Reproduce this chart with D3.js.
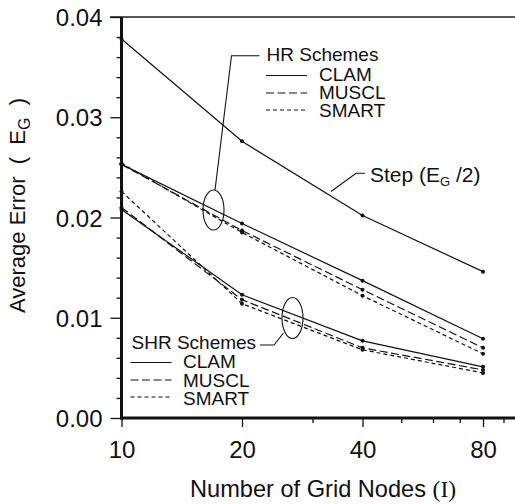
<!DOCTYPE html>
<html>
<head>
<meta charset="utf-8">
<script src="https://cdn.jsdelivr.net/npm/d3@7"></script>
<style>
  html, body { margin: 0; padding: 0; background: #fff; }
  svg { display: block; font-family: "Liberation Sans", Arial, Helvetica, sans-serif; }
  text { fill: #111; white-space: pre; }
</style>
</head>
<body>
<svg id="chart" width="515" height="504"></svg>
<script>
// Grid sizes (I) and average errors E_G for each scheme
const gridNodes = [10, 20, 40, 80];
const stepHalf  = [0.0378, 0.0276, 0.0202, 0.0146];   // Step, plotted as E_G / 2
const hrClam    = [0.0253, 0.0194, 0.0137, 0.0079];
const hrMuscl   = [0.0253, 0.0187, 0.0128, 0.0070];
const hrSmart   = [0.0254, 0.0185, 0.0122, 0.0064];
const shrClam   = [0.0208, 0.0123, 0.0077, 0.0051];
const shrMuscl  = [0.0210, 0.0118, 0.0070, 0.0048];
const shrSmart  = [0.0226, 0.0114, 0.0068, 0.0045];

const xMajorTicks = [10, 20, 40, 80];
const xMinorTicks = [30, 50, 60, 70, 90, 100];
const yMajorTicks = [0, 0.01, 0.02, 0.03, 0.04];
const yTickLabels = ["0.00", "0.01", "0.02", "0.03", "0.04"];
const yMinorTicks = d3.range(0, 41, 2).map(v => v / 1000).filter(v => !yMajorTicks.some(m => Math.abs(m - v) < 1e-9));

const legendNames = ["CLAM", "MUSCL", "SMART"];
const dashStyles = { CLAM: null, MUSCL: "8,3.5", SMART: "4,3" };

const series = [
  { name: "Step",  style: "CLAM",  values: stepHalf },
  { name: "HR CLAM",  style: "CLAM",  values: hrClam },
  { name: "HR MUSCL", style: "MUSCL", values: hrMuscl },
  { name: "HR SMART", style: "SMART", values: hrSmart },
  { name: "SHR CLAM",  style: "CLAM",  values: shrClam },
  { name: "SHR MUSCL", style: "MUSCL", values: shrMuscl },
  { name: "SHR SMART", style: "SMART", values: shrSmart }
];

const svg = d3.select("#chart");

const x = d3.scaleLog().domain([10, 100]).range([121.5, 521.8]);
const y = d3.scaleLinear().domain([0, 0.04]).range([418, 17]);

// top frame line
svg.append("line")
  .attr("x1", 110).attr("x2", 515)
  .attr("y1", y(0.04)).attr("y2", y(0.04))
  .attr("stroke", "#222").attr("stroke-width", 1.3);

// y axis: major ticks with labels, minor ticks without
const yAxis = svg.append("g").attr("transform", `translate(${x(10)},0)`);
yAxis.call(d3.axisLeft(y).tickValues(yMajorTicks).tickSize(11)
  .tickFormat((d, i) => yTickLabels[i]).tickPadding(8));
yAxis.append("g").call(d3.axisLeft(y).tickValues(yMinorTicks).tickSize(5).tickFormat(""))
  .select(".domain").remove();
yAxis.selectAll(".tick line").attr("stroke", "#111").attr("stroke-width", 1.3);
yAxis.selectAll(".tick text").attr("font-size", 24).attr("font-family", "Liberation Sans, Arial, sans-serif")
  .attr("fill", "#111").attr("dy", "0.36em");
yAxis.select(".domain").attr("stroke", "#111").attr("stroke-width", 3)
  .attr("d", `M0,${y(0.04)}V${y(0) + 1.5}`);

// x axis (log scale), major labelled ticks and minor ticks
const xAxis = svg.append("g").attr("transform", `translate(0,${y(0)})`);
xAxis.call(d3.axisBottom(x).tickValues(xMajorTicks).tickSize(9)
  .tickFormat(d3.format("d")).tickPadding(14));
xAxis.append("g").call(d3.axisBottom(x).tickValues(xMinorTicks).tickSize(5).tickFormat(""))
  .select(".domain").remove();
xAxis.selectAll(".tick line").attr("stroke", "#111").attr("stroke-width", 1.3);
xAxis.selectAll(".tick text").attr("font-size", 24).attr("font-family", "Liberation Sans, Arial, sans-serif")
  .attr("fill", "#111");
xAxis.select(".domain").attr("stroke", "#111").attr("stroke-width", 3)
  .attr("d", `M${x(10) - 1.5},0H515`);

// data lines
const line = d3.line()
  .x((d, i) => x(gridNodes[i]))
  .y(d => y(d));

const plot = svg.append("g");
series.forEach(s => {
  plot.append("path")
    .datum(s.values)
    .attr("d", line)
    .attr("fill", "none")
    .attr("stroke", "#111")
    .attr("stroke-width", 1.2)
    .attr("stroke-dasharray", dashStyles[s.style]);
  plot.selectAll(null)
    .data(s.values)
    .join("circle")
    .attr("cx", (d, i) => x(gridNodes[i]))
    .attr("cy", d => y(d))
    .attr("r", 2)
    .attr("fill", "#111");
});

// axis titles
svg.append("text")
  .attr("x", 190).attr("y", 497)
  .attr("font-size", 23.6)
  .text("Number of Grid Nodes ")
  .append("tspan").attr("font-family", "Liberation Serif, Times New Roman, serif").text("(I)");

const yTitle = svg.append("text")
  .attr("transform", "translate(24.5,313) rotate(-90)")
  .attr("font-size", 22);
yTitle.append("tspan").text("Average Error  (  E");
yTitle.append("tspan").attr("font-size", 16).attr("dy", 5).text("G");
yTitle.append("tspan").attr("dy", -5).text("  )");

// legend blocks
function legendBlock(title, tx, ty, lineX1, lineX2, lineYs, labelX, labelYs) {
  const g = svg.append("g");
  g.append("text").attr("x", tx).attr("y", ty).attr("font-size", 19).text(title);
  legendNames.forEach((n, i) => {
    g.append("line")
      .attr("x1", lineX1).attr("x2", lineX2)
      .attr("y1", lineYs[i]).attr("y2", lineYs[i])
      .attr("stroke", "#111").attr("stroke-width", 1.2)
      .attr("stroke-dasharray", dashStyles[n]);
    g.append("text").attr("x", labelX).attr("y", labelYs[i]).attr("font-size", 19).text(n);
  });
}
legendBlock("HR Schemes", 266.5, 61, 266, 307, [75.5, 93, 110], 319, [81, 99, 117]);
legendBlock("SHR Schemes", 131.5, 349, 130.5, 171.5, [362.5, 380, 397], 183, [368, 386.5, 405]);

// pointer ellipses and leaders
const annot = svg.append("g").attr("fill", "none").attr("stroke", "#111").attr("stroke-width", 1.1);
annot.append("ellipse").attr("cx", 213.5).attr("cy", 210).attr("rx", 10.5).attr("ry", 20);
annot.append("polyline").attr("points", "215,190 231.5,55.7 259.5,55.7");
annot.append("ellipse").attr("cx", 292.5).attr("cy", 318).attr("rx", 10.5).attr("ry", 20.5);
annot.append("polyline").attr("points", "260,345 274,345 283.5,333");
annot.append("polyline").attr("points", "331,191.5 356,173.3 365,173.3");

// Step label
const stepLabel = svg.append("text").attr("x", 370).attr("y", 182).attr("font-size", 21);
stepLabel.append("tspan").text("Step (E");
stepLabel.append("tspan").attr("font-size", 13).attr("dy", 4).text("G");
stepLabel.append("tspan").attr("dy", -4).text(" /2)");
</script>
</body>
</html>
